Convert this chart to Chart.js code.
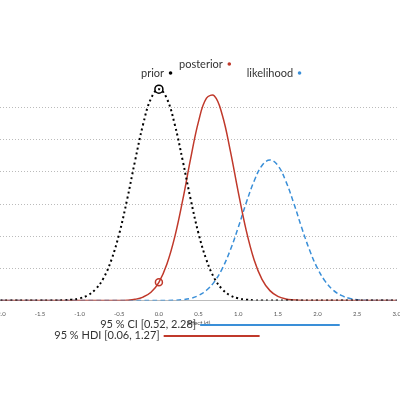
<!DOCTYPE html>
<html>
<head>
<meta charset="utf-8">
<script src="https://cdn.jsdelivr.net/npm/chart.js@4"></script>
<style>
  html, body { margin: 0; padding: 0; background: #fff; overflow: hidden; }
  #wrap { position: absolute; left: -7px; top: 0; width: 410px; height: 400px; }
</style>
</head>
<body>
<div id="wrap"><canvas id="c"></canvas></div>
<script>
// ===== Data =====
const xs = [];
for (let i = 0; i <= 50; i++) xs.push(Math.round((-2 + i * 0.1) * 10) / 10);

// density heights, one value per x in xs (-2.0 .. 3.0, step 0.1)
const prior = [0,0,0,0,0,0,0,0,0.01,0.03,0.07,0.16,0.35,0.69,1.26,2.08,3.15,4.35,5.47,6.28,
  6.57,6.28,5.47,4.35,3.15,2.08,1.26,0.69,0.35,0.16,0.07,0.03,0.01,0,0,0,0,0,0,0,0,0,0,0,0,0,0,0,0,0,0];
const posterior = [0,0,0,0,0,0,0,0,0,0,0,0,0,0,0,0,0.01,0.04,0.11,0.26,
  0.57,1.13,1.98,3.12,4.41,5.57,6.29,6.36,5.76,4.66,3.38,2.19,1.27,0.66,0.31,0.13,0.05,0.02,0,0,0,0,0,0,0,0,0,0,0,0,0];
const likelihood = [0,0,0,0,0,0,0,0,0,0,0,0,0,0,0,0,0,0,0,0,
  0,0,0.01,0.03,0.07,0.16,0.32,0.59,1.00,1.57,2.27,3.03,3.71,4.20,4.37,4.20,3.71,3.03,2.27,1.57,1.00,0.59,0.32,0.16,0.07,0.03,0.01,0,0,0,0];

const xTicks = [-2.0, -1.5, -1.0, -0.5, 0.0, 0.5, 1.0, 1.5, 2.0, 2.5, 3.0];
const ci = [0.52, 2.28];
const hdi = [0.06, 1.27];
const priorMark = [0, 6.57];
const posteriorMark = [0, 0.57];

const RED = '#c0392b', BLUE = '#3a8fd8', FONT = "'Lato', 'Open Sans', sans-serif";
const pts = arr => xs.map((x, i) => ({ x: x, y: arr[i] }));

// ===== Labels & interval bars =====
const annot = {
  id: 'annot',
  afterDraw(chart) {
    const ctx = chart.ctx, xs_ = chart.scales.x;
    ctx.save();
    ctx.font = '11px ' + FONT;
    ctx.textBaseline = 'middle';
    const label = (txt, col, xv, py) => {
      const w = ctx.measureText(txt).width;
      const cx = xs_.getPixelForValue(xv);
      ctx.fillStyle = '#333'; ctx.textAlign = 'left';
      ctx.fillText(txt, cx - (w + 8) / 2, py);
      ctx.fillStyle = col; ctx.beginPath();
      ctx.arc(cx + (w + 8) / 2 - 1.5, py, 1.8, 0, Math.PI * 2); ctx.fill();
    };
    label('prior', '#000', -0.03, 73);
    label('posterior', RED, 0.58, 64);
    label('likelihood', BLUE, 1.45, 73);

    const bar = (txt, iv, col, py) => {
      const a = xs_.getPixelForValue(iv[0]), b = xs_.getPixelForValue(iv[1]);
      ctx.fillStyle = '#333'; ctx.textAlign = 'right';
      ctx.fillText(txt, a - 4, py);
      ctx.strokeStyle = col; ctx.lineWidth = 2;
      ctx.beginPath(); ctx.moveTo(a, py + 1); ctx.lineTo(b, py + 1); ctx.stroke();
    };
    bar('95 % CI [' + ci[0].toFixed(2) + ', ' + ci[1].toFixed(2) + ']', ci, BLUE, 324);
    bar('95 % HDI [' + hdi[0].toFixed(2) + ', ' + hdi[1].toFixed(2) + ']', hdi, RED, 335);
    ctx.restore();
  }
};

new Chart(document.getElementById('c'), {
  type: 'line',
  data: {
    datasets: [
      { data: pts(prior), borderColor: '#000', borderWidth: 2, borderDash: [2, 3], pointRadius: 0, tension: 0.4 },
      { data: pts(posterior), borderColor: RED, borderWidth: 1.5, pointRadius: 0, tension: 0.4 },
      { data: pts(likelihood), borderColor: BLUE, borderWidth: 1.5, borderDash: [5, 3], pointRadius: 0, tension: 0.4 },
      { type: 'scatter', data: [{ x: priorMark[0], y: priorMark[1] }], pointRadius: 4, pointBorderWidth: 1.5,
        pointBorderColor: '#000', pointBackgroundColor: '#fff' },
      { type: 'scatter', data: [{ x: posteriorMark[0], y: posteriorMark[1] }], pointRadius: 3.5, pointBorderWidth: 1.5,
        pointBorderColor: RED, pointBackgroundColor: '#fff' }
    ]
  },
  options: {
    responsive: true,
    maintainAspectRatio: false,
    animation: false,
    layout: { padding: { top: 0, left: 0, right: 4, bottom: 73 } },
    plugins: { legend: { display: false }, tooltip: { enabled: false } },
    scales: {
      x: {
        type: 'linear', min: -2, max: 3,
        afterBuildTicks: s => { s.ticks = xTicks.map(v => ({ value: v })); },
        ticks: { font: { size: 6, family: FONT }, color: '#555', padding: 2, maxRotation: 0,
                 callback: v => v.toFixed(1) },
        grid: { display: false },
        border: { color: '#bbb', width: 1, dash: [1, 1] },
        title: { display: true, text: 'Effect (d)', font: { size: 6, family: FONT }, color: '#444', padding: 0 }
      },
      y: {
        min: 0, max: 9.17,
        afterBuildTicks: s => { s.ticks = [1, 2, 3, 4, 5, 6].map(v => ({ value: v })); },
        ticks: { display: false },
        grid: { color: '#bbb', lineWidth: 1, drawTicks: false },
        border: { display: false, dash: [1, 2] }
      }
    }
  },
  plugins: [annot]
});
</script>
</body>
</html>
